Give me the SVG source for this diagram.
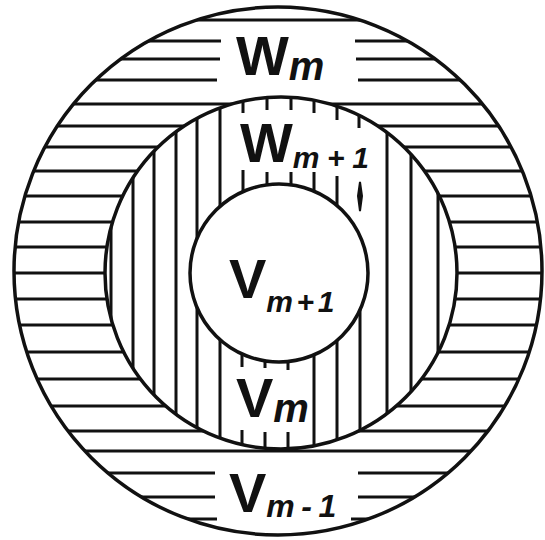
<svg xmlns="http://www.w3.org/2000/svg" width="545" height="540" viewBox="0 0 545 540">
<defs>
<style>
.ln{stroke:#111;stroke-width:3;fill:none;stroke-linecap:butt}
.cir{stroke:#111;stroke-width:3.5;fill:none}
.big{font-family:"Liberation Sans",Arial,sans-serif;font-weight:bold;fill:#111}
.sub{font-style:italic}
</style>
<clipPath id="outerClip"><circle cx="278" cy="271" r="264"/></clipPath>
<clipPath id="midClip"><circle cx="281" cy="273" r="176"/></clipPath>
</defs>
<rect width="545" height="540" fill="#fff"/>

<g id="outer-band">
<g clip-path="url(#outerClip)" class="ln">
<line x1="0" y1="20" x2="545" y2="20"/>
<line x1="0" y1="41" x2="221" y2="41"/><line x1="355" y1="41" x2="545" y2="41"/>
<line x1="0" y1="59" x2="220" y2="59"/><line x1="356" y1="59" x2="545" y2="59"/>
<line x1="0" y1="80" x2="217" y2="80"/><line x1="358" y1="80" x2="545" y2="80"/>
<line x1="0" y1="104" x2="545" y2="104"/>
<line x1="0" y1="126" x2="545" y2="126"/>
<line x1="0" y1="147" x2="545" y2="147"/>
<line x1="0" y1="171" x2="545" y2="171"/>
<line x1="0" y1="196" x2="545" y2="196"/>
<line x1="0" y1="222" x2="545" y2="222"/>
<line x1="0" y1="247" x2="545" y2="247"/>
<line x1="0" y1="273" x2="545" y2="273"/>
<line x1="0" y1="299" x2="545" y2="299"/>
<line x1="0" y1="325" x2="545" y2="325"/>
<line x1="0" y1="352" x2="545" y2="352"/>
<line x1="0" y1="379" x2="545" y2="379"/>
<line x1="0" y1="406" x2="545" y2="406"/>
<line x1="0" y1="431" x2="545" y2="431"/>
<line x1="0" y1="451" x2="545" y2="451"/>
<line x1="0" y1="473" x2="215" y2="473"/><line x1="358" y1="473" x2="545" y2="473"/>
<line x1="0" y1="497" x2="215" y2="497"/><line x1="358" y1="497" x2="545" y2="497"/>
<line x1="0" y1="519" x2="217" y2="519"/><line x1="351" y1="519" x2="545" y2="519"/>
</g>
</g>

<g id="middle-band">
<circle cx="281" cy="273" r="176" fill="#fff"/>
<g clip-path="url(#midClip)" class="ln">
<line x1="111" y1="80" x2="111" y2="470"/>
<line x1="133" y1="80" x2="133" y2="470"/>
<line x1="154" y1="80" x2="154" y2="470"/>
<line x1="176" y1="80" x2="176" y2="470"/>
<line x1="197" y1="80" x2="197" y2="470"/>
<line x1="220" y1="80" x2="220" y2="470"/>
<line x1="387" y1="80" x2="387" y2="470"/>
<line x1="411" y1="80" x2="411" y2="470"/>
<line x1="438" y1="80" x2="438" y2="470"/>
<line x1="314" y1="300" x2="314" y2="470"/>
<line x1="337" y1="300" x2="337" y2="470"/>
<line x1="360" y1="300" x2="360" y2="470"/>
<line x1="243" y1="80" x2="243" y2="113"/>
<line x1="267" y1="80" x2="267" y2="110"/>
<line x1="291" y1="80" x2="291" y2="110"/>
<line x1="314" y1="80" x2="314" y2="113"/>
<line x1="337" y1="80" x2="337" y2="120"/>
<line x1="359" y1="80" x2="359" y2="128"/>
<line x1="243" y1="170" x2="243" y2="230"/>
<line x1="267" y1="172" x2="267" y2="230"/>
<line x1="291" y1="172" x2="291" y2="230"/>
<line x1="314" y1="172" x2="314" y2="230"/>
<line x1="337" y1="176" x2="337" y2="230"/>
<line x1="242" y1="330" x2="242" y2="367"/>
<line x1="265" y1="330" x2="265" y2="368"/>
<line x1="288" y1="330" x2="288" y2="370"/>
<line x1="242" y1="430" x2="242" y2="470"/>
<line x1="265" y1="432" x2="265" y2="470"/>
<line x1="288" y1="432" x2="288" y2="470"/>
</g>
<path d="M360 182 L362 196 L360 211 L358 196 Z" fill="#111" stroke="#111" stroke-width="2"/>
</g>

<g id="inner-disc">
<circle cx="279" cy="273" r="89" fill="#fff" class="cir" style="fill:#fff"/>
</g>

<g id="outlines">
<circle cx="281" cy="273" r="176" class="cir"/>
<circle cx="278" cy="271" r="264" class="cir"/>
</g>

<g id="labels" class="big">
<text id="label-Wm" x="236" y="75" font-size="56">W<tspan class="sub" font-size="40" dy="5">m</tspan></text>
<text id="label-Wm1" x="240" y="162" font-size="56">W<tspan class="sub" font-size="30" dy="6" textLength="76">m+1</tspan></text>
<text id="label-Vm1c" x="229" y="298" font-size="56">V<tspan class="sub" font-size="30" dy="14" textLength="68">m+1</tspan></text>
<text id="label-Vm" x="236" y="417" font-size="56">V<tspan class="sub" font-size="40" dy="5">m</tspan></text>
<text id="label-Vm-1" x="229" y="512" font-size="56">V<tspan class="sub" font-size="32" dy="5" textLength="70">m-1</tspan></text>
</g>
</svg>
